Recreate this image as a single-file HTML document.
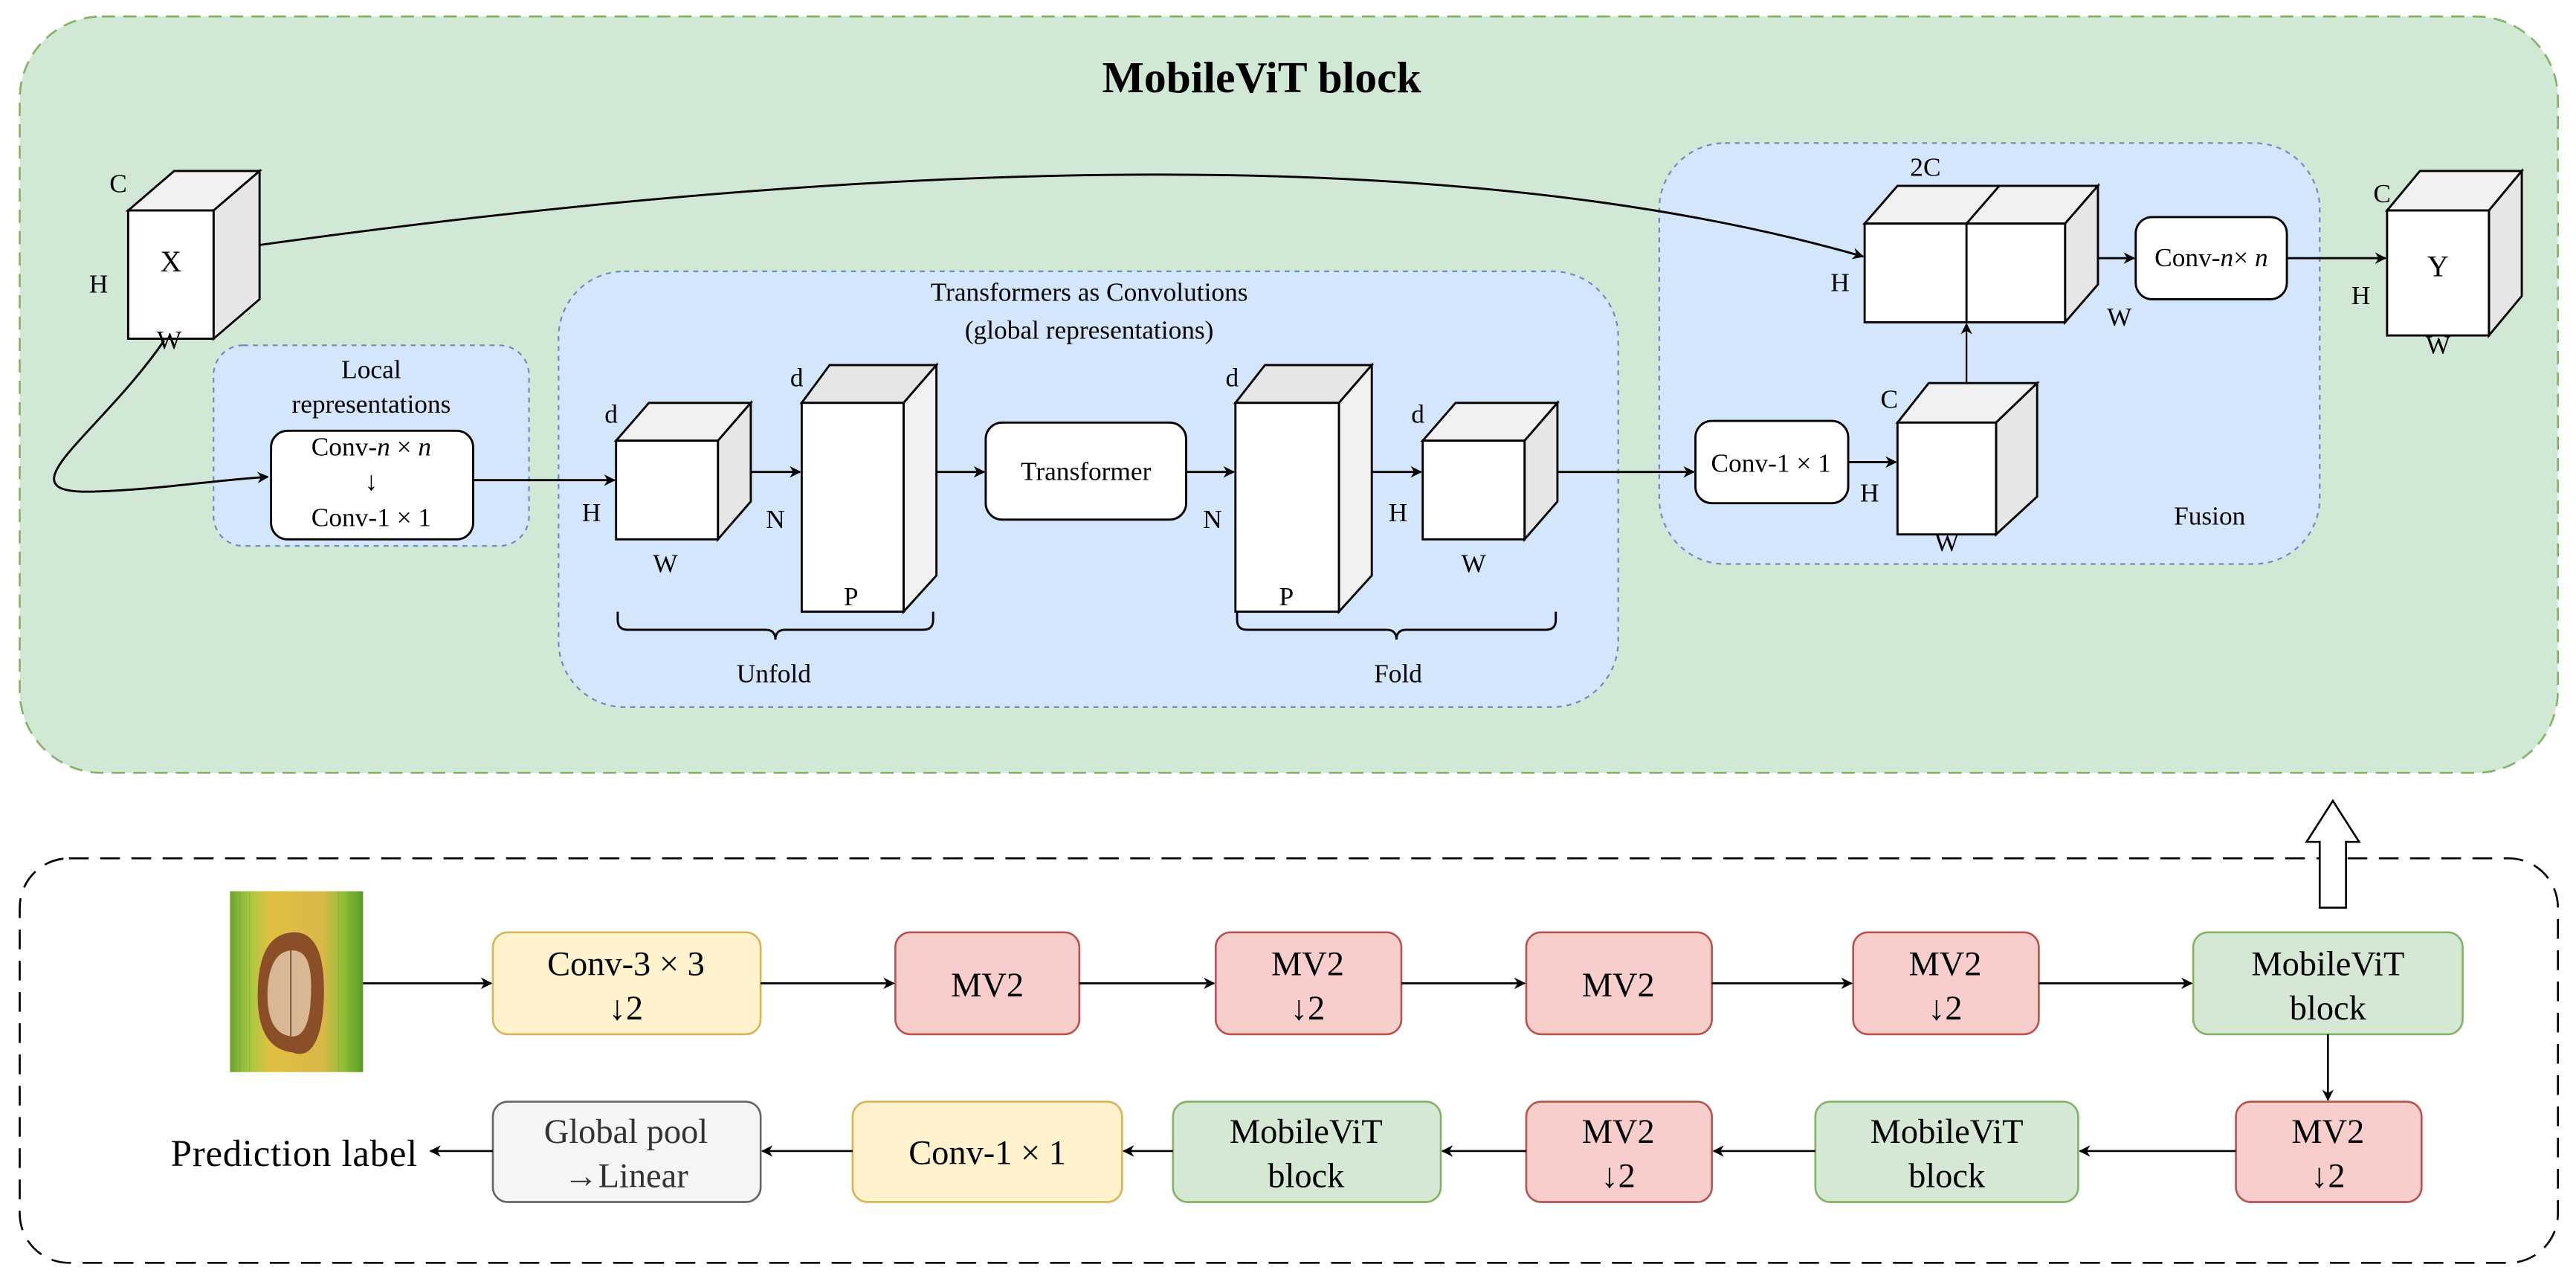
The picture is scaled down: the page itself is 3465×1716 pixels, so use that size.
<!DOCTYPE html>
<html><head><meta charset="utf-8"><style>
html,body{margin:0;padding:0;background:#fff;}
svg{display:block;}
text{font-family:"Liberation Serif",serif;fill:#000;}
</style></head><body>
<svg width="3465" height="1716" viewBox="0 0 1568 776" preserveAspectRatio="none" xmlns="http://www.w3.org/2000/svg">
<defs>
<marker id="ar" viewBox="0 0 10 10" refX="9" refY="5" markerWidth="7" markerHeight="7" orient="auto" markerUnits="userSpaceOnUse"><path d="M0,0 L10,5 L0,10 L3,5 z" fill="#000"/></marker>
<linearGradient id="leaf" x1="0" x2="1" y1="0" y2="0">
<stop offset="0" stop-color="#6aa630"/><stop offset="0.15" stop-color="#a8c840"/><stop offset="0.3" stop-color="#e0c040"/><stop offset="0.7" stop-color="#d8b848"/><stop offset="0.85" stop-color="#8fbf38"/><stop offset="1" stop-color="#5a9a28"/>
</linearGradient>
</defs>

<rect x="12" y="10" width="1545" height="460" rx="50" fill="#d0e8d4" stroke="#82b366" stroke-width="1.2" stroke-dasharray="8,5"/>
<text x="768" y="56" font-size="27" font-weight="bold" text-anchor="middle">MobileViT block</text>

<rect x="130" y="210" width="192" height="122" rx="18" fill="#d4e6fb" stroke="#6c8ebf" stroke-width="1" stroke-dasharray="3,3"/>
<text x="226" y="230" font-size="16" text-anchor="middle">Local</text>
<text x="226" y="251" font-size="16" text-anchor="middle">representations</text>
<rect x="165" y="262" width="123" height="66" rx="10" fill="#fff" stroke="#000" stroke-width="1.3"/>
<text x="226" y="277" font-size="16" text-anchor="middle">Conv-<tspan font-style="italic">n</tspan> × <tspan font-style="italic">n</tspan></text>
<text x="226" y="298" font-size="16" text-anchor="middle">↓</text>
<text x="226" y="320" font-size="16" text-anchor="middle">Conv-1 × 1</text>

<rect x="340" y="165" width="645" height="265" rx="40" fill="#d4e6fb" stroke="#6c8ebf" stroke-width="1" stroke-dasharray="3,3"/>
<text x="663" y="183" font-size="16" text-anchor="middle">Transformers as Convolutions</text>
<text x="663" y="206" font-size="16" text-anchor="middle">(global representations)</text>

<rect x="1010" y="87" width="402" height="256" rx="40" fill="#d4e6fb" stroke="#6c8ebf" stroke-width="1" stroke-dasharray="3,3"/>
<text x="1345" y="319" font-size="16" text-anchor="middle">Fusion</text>
<text x="1172" y="107" font-size="16" text-anchor="middle">2C</text>

<path d="M100,207 C60,265 0,300 55,299 C95,298 130,292 163,290" fill="none" stroke="#000" stroke-width="1.3" marker-end="url(#ar)"/>
<path d="M158,149 Q800,60 1134,156" fill="none" stroke="#000" stroke-width="1.3" marker-end="url(#ar)"/>

<g stroke="#000" stroke-width="1.3">
<polygon points="78,128 106,104 158,104 130,128" fill="#f1f1f1"/>
<polygon points="130,128 158,104 158,182 130,206" fill="#e6e6e6"/>
<rect x="78" y="128" width="52" height="78" fill="#fff"/>
<polygon points="375,268 395,245 457,245 437,268" fill="#f1f1f1"/>
<polygon points="437,268 457,245 457,305 437,328" fill="#e6e6e6"/>
<rect x="375" y="268" width="62" height="60" fill="#fff"/>
<polygon points="488,245 505,222 570,222 550,245" fill="#e6e6e6"/>
<polygon points="550,245 570,222 570,350 550,372" fill="#f1f1f1"/>
<rect x="488" y="245" width="62" height="127" fill="#fff"/>
<polygon points="752,245 770,222 835,222 815,245" fill="#e6e6e6"/>
<polygon points="815,245 835,222 835,350 815,372" fill="#f1f1f1"/>
<rect x="752" y="245" width="63" height="127" fill="#fff"/>
<polygon points="866,268 886,245 948,245 928,268" fill="#f1f1f1"/>
<polygon points="928,268 948,245 948,305 928,328" fill="#e6e6e6"/>
<rect x="866" y="268" width="62" height="60" fill="#fff"/>
<polygon points="1155,257 1174,233 1240,233 1215,257" fill="#f1f1f1"/>
<polygon points="1215,257 1240,233 1240,302 1215,325" fill="#e6e6e6"/>
<rect x="1155" y="257" width="60" height="68" fill="#fff"/>
<polygon points="1135,136 1155,113 1277,113 1257,136" fill="#f1f1f1"/>
<line x1="1197" y1="136" x2="1217" y2="113"/>
<polygon points="1257,136 1277,113 1277,173 1257,196" fill="#e6e6e6"/>
<rect x="1135" y="136" width="122" height="60" fill="#fff"/>
<line x1="1197" y1="136" x2="1197" y2="196"/>
<polygon points="1453,128 1473,104 1535,104 1515,128" fill="#f1f1f1"/>
<polygon points="1515,128 1535,104 1535,180 1515,204" fill="#e6e6e6"/>
<rect x="1453" y="128" width="62" height="76" fill="#fff"/>
</g>

<g font-size="16" text-anchor="middle">
<text x="72" y="117">C</text><text x="60" y="178">H</text><text x="103" y="212">W</text><text x="104" y="165" font-size="18">X</text>
<text x="372" y="257">d</text><text x="360" y="317">H</text><text x="405" y="348">W</text><text x="472" y="321">N</text>
<text x="485" y="235">d</text><text x="518" y="368">P</text>
<text x="750" y="235">d</text><text x="738" y="321">N</text><text x="783" y="368">P</text>
<text x="863" y="257">d</text><text x="851" y="317">H</text><text x="897" y="348">W</text>
<text x="1150" y="248">C</text><text x="1138" y="305">H</text><text x="1185" y="335">W</text>
<text x="1120" y="177">H</text><text x="1290" y="198">W</text>
<text x="1450" y="123">C</text><text x="1437" y="185">H</text><text x="1484" y="168" font-size="18">Y</text><text x="1484" y="215">W</text>
</g>

<rect x="600" y="257" width="122" height="59" rx="10" fill="#fff" stroke="#000" stroke-width="1.3"/>
<text x="661" y="292" font-size="16" text-anchor="middle">Transformer</text>
<rect x="1032" y="256" width="93" height="50" rx="10" fill="#fff" stroke="#000" stroke-width="1.3"/>
<text x="1078" y="287" font-size="16" text-anchor="middle">Conv-1 × 1</text>
<rect x="1300" y="132" width="92" height="50" rx="10" fill="#fff" stroke="#000" stroke-width="1.3"/>
<text x="1346" y="162" font-size="16" text-anchor="middle">Conv-<tspan font-style="italic">n</tspan>× <tspan font-style="italic">n</tspan></text>

<g stroke="#000" stroke-width="1.3" fill="none">
<line x1="288" y1="292" x2="374" y2="292" marker-end="url(#ar)"/>
<line x1="457" y1="287" x2="487" y2="287" marker-end="url(#ar)"/>
<line x1="570" y1="287" x2="599" y2="287" marker-end="url(#ar)"/>
<line x1="722" y1="287" x2="751" y2="287" marker-end="url(#ar)"/>
<line x1="835" y1="287" x2="865" y2="287" marker-end="url(#ar)"/>
<line x1="948" y1="287" x2="1031" y2="287" marker-end="url(#ar)"/>
<line x1="1125" y1="281" x2="1154" y2="281" marker-end="url(#ar)"/>
<line x1="1197" y1="233" x2="1197" y2="197" stroke-width="1" marker-end="url(#ar)"/>
<line x1="1277" y1="157" x2="1299" y2="157" marker-end="url(#ar)"/>
<line x1="1392" y1="157" x2="1452" y2="157" marker-end="url(#ar)"/>
<path d="M376,372 v5 q0,6 6,6 h84 q6,0 6,6 q0,-6 6,-6 h84 q6,0 6,-6 v-5"/>
<path d="M753,372 v5 q0,6 6,6 h85 q6,0 6,6 q0,-6 6,-6 h85 q6,0 6,-6 v-5"/>
</g>
<text x="471" y="415" font-size="16" text-anchor="middle">Unfold</text>
<text x="851" y="415" font-size="16" text-anchor="middle">Fold</text>

<rect x="12" y="522" width="1545" height="246" rx="30" fill="#fff" stroke="#000" stroke-width="1.2" stroke-dasharray="12,7"/>
<path d="M1412,552 V512 H1404 L1420,487 L1436,512 H1428 V552 Z" fill="#fff" stroke="#000" stroke-width="1.2"/>

<rect x="140" y="542" width="81" height="110" fill="url(#leaf)"/>
<g stroke="#7a9a20" stroke-width="0.4" opacity="0.5">
<line x1="146" y1="542" x2="146" y2="652"/><line x1="152" y1="542" x2="152" y2="652"/><line x1="206" y1="542" x2="206" y2="652"/><line x1="213" y1="542" x2="213" y2="652"/>
</g>
<path d="M178,567 C196,566 198,590 197,610 C196,630 190,645 178,640 C160,638 156,620 157,600 C158,580 164,568 178,567 Z" fill="#8a4e28"/>
<path d="M178,578 C190,578 190,595 189,610 C188,625 183,632 176,630 C165,628 162,615 163,600 C164,588 168,578 178,578 Z" fill="#d9b792"/>
<line x1="177" y1="578" x2="177" y2="630" stroke="#6a4a30" stroke-width="0.8"/>

<g stroke-width="1.2">
<rect x="300" y="567" width="163" height="62" rx="9" fill="#fff2cc" stroke="#d6b656"/>
<rect x="545" y="567" width="112" height="62" rx="9" fill="#f8cecc" stroke="#b85450"/>
<rect x="740" y="567" width="113" height="62" rx="9" fill="#f8cecc" stroke="#b85450"/>
<rect x="929" y="567" width="113" height="62" rx="9" fill="#f8cecc" stroke="#b85450"/>
<rect x="1128" y="567" width="113" height="62" rx="9" fill="#f8cecc" stroke="#b85450"/>
<rect x="1335" y="567" width="164" height="62" rx="9" fill="#d5e8d4" stroke="#82b366"/>
<rect x="1361" y="670" width="113" height="61" rx="9" fill="#f8cecc" stroke="#b85450"/>
<rect x="1105" y="670" width="160" height="61" rx="9" fill="#d5e8d4" stroke="#82b366"/>
<rect x="929" y="670" width="113" height="61" rx="9" fill="#f8cecc" stroke="#b85450"/>
<rect x="714" y="670" width="163" height="61" rx="9" fill="#d5e8d4" stroke="#82b366"/>
<rect x="519" y="670" width="164" height="61" rx="9" fill="#fff2cc" stroke="#d6b656"/>
<rect x="300" y="670" width="163" height="61" rx="9" fill="#f5f5f5" stroke="#666"/>
</g>
<g font-size="21" text-anchor="middle">
<text x="381" y="593">Conv-3 × 3</text><text x="381" y="620">↓2</text>
<text x="601" y="606">MV2</text>
<text x="796" y="593">MV2</text><text x="796" y="620">↓2</text>
<text x="985" y="606">MV2</text>
<text x="1184" y="593">MV2</text><text x="1184" y="620">↓2</text>
<text x="1417" y="593">MobileViT</text><text x="1417" y="620">block</text>
<text x="1417" y="695">MV2</text><text x="1417" y="722">↓2</text>
<text x="1185" y="695">MobileViT</text><text x="1185" y="722">block</text>
<text x="985" y="695">MV2</text><text x="985" y="722">↓2</text>
<text x="795" y="695">MobileViT</text><text x="795" y="722">block</text>
<text x="601" y="708">Conv-1 × 1</text>
<text x="381" y="695" style="fill:#333">Global pool</text><text x="381" y="722" style="fill:#333">→Linear</text>
</g>
<text x="104" y="709" font-size="23" textLength="150">Prediction label</text>

<g stroke="#000" stroke-width="1.2" fill="none">
<line x1="221" y1="598" x2="299" y2="598" marker-end="url(#ar)"/>
<line x1="463" y1="598" x2="544" y2="598" marker-end="url(#ar)"/>
<line x1="657" y1="598" x2="739" y2="598" marker-end="url(#ar)"/>
<line x1="853" y1="598" x2="928" y2="598" marker-end="url(#ar)"/>
<line x1="1042" y1="598" x2="1127" y2="598" marker-end="url(#ar)"/>
<line x1="1241" y1="598" x2="1334" y2="598" marker-end="url(#ar)"/>
<line x1="1417" y1="629" x2="1417" y2="669" marker-end="url(#ar)"/>
<line x1="1361" y1="700" x2="1266" y2="700" marker-end="url(#ar)"/>
<line x1="1105" y1="700" x2="1043" y2="700" marker-end="url(#ar)"/>
<line x1="929" y1="700" x2="878" y2="700" marker-end="url(#ar)"/>
<line x1="714" y1="700" x2="684" y2="700" marker-end="url(#ar)"/>
<line x1="519" y1="700" x2="464" y2="700" marker-end="url(#ar)"/>
<line x1="300" y1="700" x2="262" y2="700" marker-end="url(#ar)"/>
</g>
</svg>
</body></html>
